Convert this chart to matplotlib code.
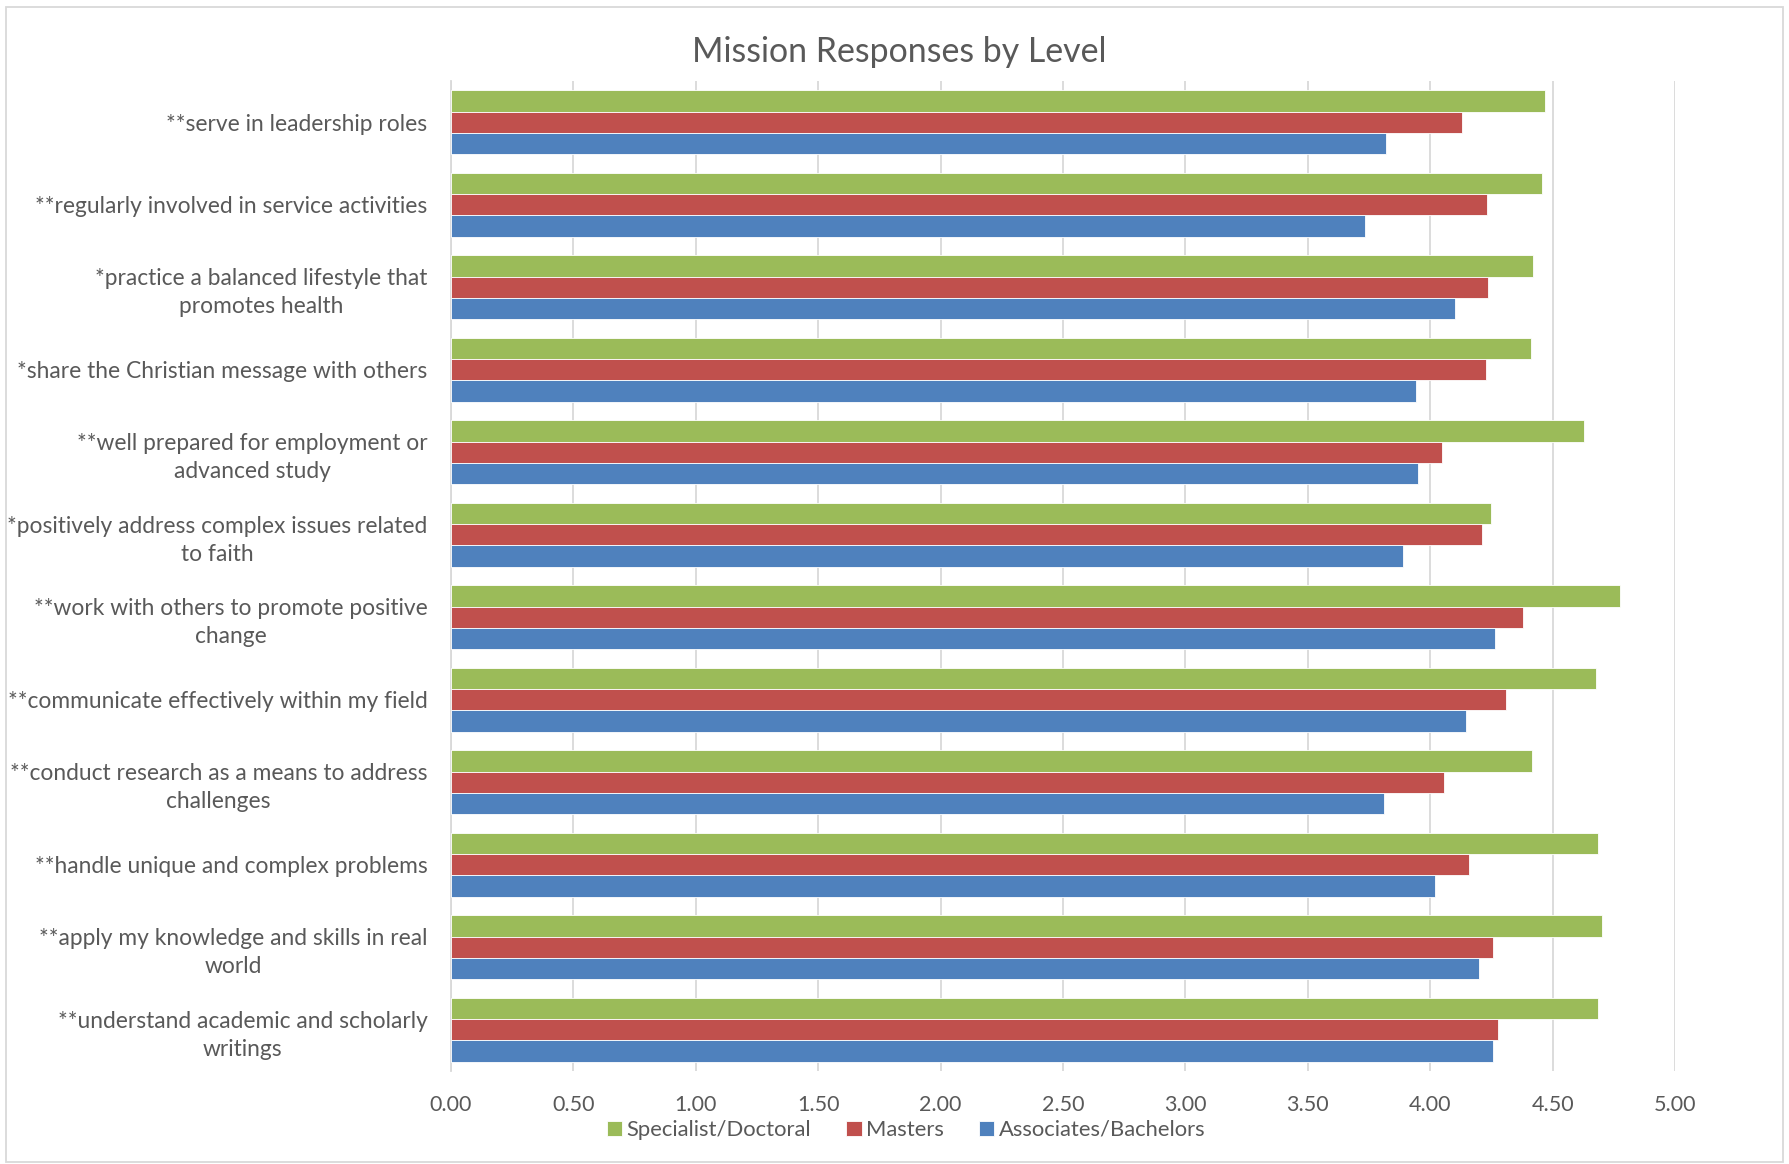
import numpy as np
from matplotlib import pyplot as plt
from matplotlib.patches import Rectangle

# categories, top to bottom as shown
labels = [
    "**serve in leadership roles",
    "**regularly involved in service activities",
    "*practice a balanced lifestyle that\npromotes health",
    "*share the Christian message with others",
    "**well prepared for employment or\nadvanced study",
    "*positively address complex issues related\nto faith",
    "**work with others to promote positive\nchange",
    "**communicate effectively within my field",
    "**conduct research as a means to address\nchallenges",
    "**handle unique and complex problems",
    "**apply my knowledge and skills in real\nworld",
    "**understand academic and scholarly\nwritings",
]
specialist = [4.47, 4.455, 4.42, 4.41, 4.63, 4.25, 4.775, 4.677, 4.417, 4.687, 4.70, 4.687]
masters = [4.13, 4.23, 4.238, 4.227, 4.05, 4.21, 4.38, 4.31, 4.058, 4.157, 4.255, 4.276]
associates = [3.82, 3.735, 4.10, 3.94, 3.95, 3.89, 4.266, 4.146, 3.81, 4.02, 4.199, 4.255]
series_names = ["Specialist/Doctoral", "Masters", "Associates/Bachelors"]
xticks = np.arange(0, 5.01, 0.5)

plt.rcParams['font.family'] = ['Lato', 'DejaVu Sans']
txt = '#595959'
grid = '#D9D9D9'
colors = ['#9BBB59', '#C0504D', '#4F81BD']

fig = plt.figure(figsize=(17.89, 11.64), dpi=100)
ax = fig.add_axes([451/1789, 1 - 1071/1164, (1675 - 451)/1789, (1071 - 81)/1164])

y = np.arange(len(labels))
h = 0.26
for k, vals in enumerate([specialist, masters, associates]):
    ax.barh(y + (k - 1) * h, vals, height=h, color=colors[k], label=series_names[k],
            edgecolor='white', linewidth=0.6, zorder=3)

ax.set_xlim(0, 5)
ax.set_ylim(len(labels) - 0.5, -0.5)
ax.set_xticks(xticks)
ax.set_xticklabels([f"{v:.2f}" for v in xticks], color=txt, fontsize=15.5)
ax.set_yticks(y)
ax.set_yticklabels(labels, color=txt, fontsize=16.4, multialignment='center', linespacing=1.4)
ax.tick_params(axis='both', length=0)
ax.tick_params(axis='x', pad=17)
ax.tick_params(axis='y', pad=17)
ax.grid(axis='x', color=grid, linewidth=1.3, zorder=0)
for s in ['top', 'right', 'bottom']:
    ax.spines[s].set_visible(False)
ax.spines['left'].set_color(grid)
ax.spines['left'].set_linewidth(1.3)

fig.text(899/1789, 1 - 52/1164, "Mission Responses by Level", ha='center', va='center',
         fontsize=24.4, color=txt)

fig.legend(loc='center', bbox_to_anchor=(906/1789, 1 - 1130/1164), ncol=3, frameon=False,
           fontsize=15.8, labelcolor=txt, handlelength=0.7, handleheight=0.7,
           handletextpad=0.2, columnspacing=1.6)

fig.patches.append(Rectangle((6/1789, 2/1164), 1777/1789, 1155/1164, transform=fig.transFigure,
                             fill=False, edgecolor='#D9D9D9', linewidth=1.3))

fig.savefig('out.png', dpi=100)
